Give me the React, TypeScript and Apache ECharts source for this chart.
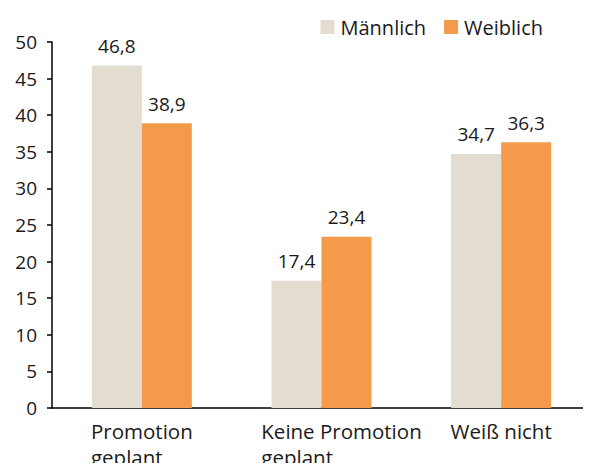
import React, { useEffect, useRef } from "react";
import * as echarts from "echarts";

const categories = ["Promotion\ngeplant", "Keine Promotion\ngeplant", "Weiß nicht"];
const maleValues = [46.8, 17.4, 34.7];
const femaleValues = [38.9, 23.4, 36.3];
const seriesNames = ["Männlich", "Weiblich"];

const FONT = "'Open Sans', 'Noto Sans', sans-serif";
const TEXT = "#1a1a1a";
const FS = 19;
const CAT_FS = 20.5;
const CAT_LH = 26;

export default function App() {
  const ref = useRef<HTMLDivElement>(null);
  useEffect(() => {
    if (!ref.current) return;
    const chart = echarts.init(ref.current, null, { renderer: "svg" });
    const labelFmt = (p: any) => String(p.value).replace(".", ",");
    const rs = { align: "left", fontSize: CAT_FS, lineHeight: CAT_LH, color: TEXT, fontFamily: FONT };
    chart.setOption({
      animation: false,
      textStyle: { fontFamily: FONT, color: TEXT },
      grid: { left: 52, right: 0, top: 42, bottom: 63, containLabel: false, outerBoundsMode: "none" },
      legend: {
        top: 12,
        right: 43,
        icon: "rect",
        itemWidth: 14,
        itemHeight: 14,
        itemGap: 18,
        textStyle: { fontSize: 20, color: TEXT, fontFamily: FONT, padding: [0, 0, 0, 1] },
        data: seriesNames,
      },
      xAxis: {
        type: "category",
        data: categories,
        axisLine: { lineStyle: { color: "#000", width: 1.5 } },
        axisTick: { show: false },
        axisLabel: {
          interval: 0,
          hideOverlap: false,
          margin: 10,
          fontSize: CAT_FS,
          color: TEXT,
          fontFamily: FONT,
          lineHeight: CAT_LH,
          formatter: (v: string, i: number) =>
            v
              .split("\n")
              .map((line) => `{c${i}|${line}}`)
              .join("\n"),
          rich: {
            c0: { ...rs },
            c1: { ...rs, padding: [0, 0, 0, 40] },
            c2: { ...rs },
          },
        },
      },
      yAxis: {
        type: "value",
        min: 0,
        max: 50,
        interval: 5,
        splitLine: { show: false },
        axisLine: { show: true, lineStyle: { color: "#000", width: 1.5 } },
        axisTick: { show: true, length: 5, lineStyle: { color: "#000", width: 1.5 } },
        axisLabel: { fontSize: FS, color: TEXT, fontFamily: FONT, margin: 15 },
      },
      series: [
        {
          name: seriesNames[0],
          type: "bar",
          data: maleValues,
          barWidth: 50,
          barGap: "0%",
          itemStyle: { color: "#E3DCD1" },
          label: { show: true, position: "top", distance: 10, fontSize: FS, color: TEXT, fontFamily: FONT, formatter: labelFmt },
        },
        {
          name: seriesNames[1],
          type: "bar",
          data: femaleValues,
          barWidth: 50,
          barGap: "0%",
          itemStyle: { color: "#F39B4B" },
          label: { show: true, position: "top", distance: 10, fontSize: FS, color: TEXT, fontFamily: FONT, formatter: labelFmt },
        },
      ],
    });
    return () => chart.dispose();
  }, []);
  return <div ref={ref} style={{ width: 591, height: 471, margin: -8 }} />;
}
